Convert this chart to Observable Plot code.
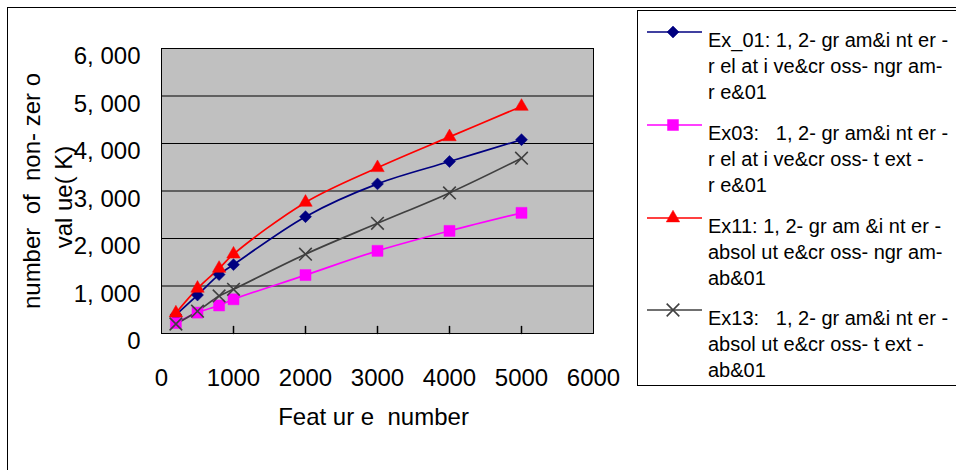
<!DOCTYPE html>
<html><head><meta charset="utf-8">
<script src="https://cdn.jsdelivr.net/npm/d3@7"></script>
<script src="https://cdn.jsdelivr.net/npm/@observablehq/plot@0.6"></script>
<style>
html,body{margin:0;padding:0;background:#fff;overflow:hidden;width:956px;height:470px;}
#wrap{position:relative;width:956px;height:470px;font-family:"Liberation Sans",Arial,sans-serif;overflow:hidden;}
#outer{position:absolute;left:7px;top:7px;width:1200px;height:1000px;border:1px solid #000;box-sizing:border-box;}
#chart{position:absolute;left:0;top:0;}
#legend{position:absolute;left:637px;top:10px;width:400px;height:376px;border:1px solid #000;box-sizing:border-box;background:#fff;}
.entry{position:absolute;left:0;width:380px;height:90px;}
.entry svg{position:absolute;left:0;top:0;overflow:visible;}
.entry .txt{position:absolute;left:70px;top:0;font-size:20px;line-height:26px;white-space:pre;color:#000;}
</style></head><body>
<div id="wrap"><div id="outer"></div><div id="chart"></div><div id="legend"></div></div>
<script>
// ---- data ----
const featureNumbers = [200, 500, 800, 1000, 2000, 3000, 4000, 5000];
const ex01 = [390, 810, 1240, 1450, 2460, 3150, 3620, 4080];
const ex03 = [220, 440, 590, 720, 1230, 1740, 2160, 2540];
const ex11 = [430, 950, 1370, 1670, 2760, 3490, 4140, 4780];
const ex13 = [200, 470, 790, 930, 1670, 2320, 2960, 3690];
const seriesNames = ["Ex_01", "Ex03", "Ex11", "Ex13"];
const seriesValues = [ex01, ex03, ex11, ex13];
const legendLabels = [
  "Ex_01: 1, 2- gr am&i nt er -\nr el at i ve&cr oss- ngr am-\nr e&01",
  "Ex03:   1, 2- gr am&i nt er -\nr el at i ve&cr oss- t ext -\nr e&01",
  "Ex11: 1, 2- gr am &i nt er -\nabsol ut e&cr oss- ngr am-\nab&01",
  "Ex13:   1, 2- gr am&i nt er -\nabsol ut e&cr oss- t ext -\nab&01"
];
const xTickValues = [0, 1000, 2000, 3000, 4000, 5000, 6000];
const yTickValues = [0, 1000, 2000, 3000, 4000, 5000, 6000];
const xAxisTitle = "Feat ur e  number";
const yAxisTitle1 = "number  of  non- zer o";
const yAxisTitle2 = "val ue( K)";

// ---- styles ----
const seriesColors = ["#000080", "#FF00FF", "#FF0000", "#404040"];
const seriesSymbols = ["diamond2", "square", "triangle", "times"];
const symbolR = {"diamond2": 5.4, "square": 6.2, "triangle": 5, "times": 5.8};

const rows = [];
seriesNames.forEach((name, i) => {
  featureNumbers.forEach((x, j) => rows.push({series: name, x, y: seriesValues[i][j]}));
});

const fmtY = d => d3.format(",")(d).replace(",", ", ");
const tickShape = {draw(context, l) { context.moveTo(0, 0); context.lineTo(0, -l); }};

const chart = Plot.plot({
  width: 636, height: 470,
  marginLeft: 161, marginRight: 43, marginTop: 48, marginBottom: 137,
  style: {fontFamily: "'Liberation Sans', Arial, sans-serif", background: "transparent", overflow: "visible", color: "#000"},
  x: {domain: [0, 6000]},
  y: {domain: [0, 6000]},
  color: {domain: seriesNames, range: seriesColors},
  symbol: {domain: seriesNames, range: seriesSymbols},
  marks: [
    Plot.frame({fill: "#C0C0C0"}),
    Plot.ruleY(yTickValues.filter(v => v > 0 && v < 6000), {stroke: "#000", strokeWidth: 1}),
    Plot.vector(xTickValues.filter(v => v > 0 && v < 6000), {x: d => d, frameAnchor: "bottom", length: 7, anchor: "start", rotate: 0, shape: tickShape, stroke: "#000"}),
    Plot.frame({stroke: "#000", strokeWidth: 1}),
    Plot.axisY({ticks: yTickValues, tickSize: 0, tickPadding: 21, tickFormat: fmtY, fontSize: 24, dy: 8, label: null}),
    Plot.axisX({ticks: xTickValues, tickSize: 0, tickPadding: 35, tickFormat: d => String(d), fontSize: 24, label: null}),
    Plot.line(rows, {x: "x", y: "y", z: "series", stroke: "series", curve: "catmull-rom", strokeWidth: 1.7}),
    ...seriesNames.map((name, i) => Plot.dot(rows.filter(r => r.series === name), {
      x: "x", y: "y", symbol: "series",
      fill: seriesSymbols[i] === "times" ? "none" : "series",
      stroke: "series", strokeWidth: seriesSymbols[i] === "times" ? 1.6 : 0.5,
      r: symbolR[seriesSymbols[i]]
    })),
    Plot.text([xAxisTitle], {text: d => d, frameAnchor: "bottom", dy: 91, dx: -4, fontSize: 24}),
    Plot.text([yAxisTitle1], {text: d => d, frameAnchor: "left", textAnchor: "middle", dx: -129, rotate: -90, fontSize: 24}),
    Plot.text([yAxisTitle2], {text: d => d, frameAnchor: "left", textAnchor: "middle", dx: -97, dy: 6, rotate: -90, fontSize: 24})
  ]
});
document.getElementById("chart").appendChild(chart);

// ---- legend ----
const legend = document.getElementById("legend");
const entryTops = [16, 109, 202, 294];
const symMap = {diamond2: d3.symbolDiamond2, square: d3.symbolSquare, triangle: d3.symbolTriangle, times: d3.symbolTimes};
seriesNames.forEach((name, i) => {
  const e = document.createElement("div");
  e.className = "entry";
  e.style.top = entryTops[i] + "px";
  const sym = seriesSymbols[i];
  const r = symbolR[sym];
  const path = d3.symbol(symMap[sym], Math.PI * r * r)();
  const isTimes = sym === "times";
  e.innerHTML = `<svg width="80" height="30"><line x1="9" x2="64" y1="5" y2="5" stroke="${seriesColors[i]}" stroke-width="1.7"/>` +
    `<path transform="translate(35,5)" d="${path}" fill="${isTimes ? "none" : seriesColors[i]}" stroke="${seriesColors[i]}" stroke-width="${isTimes ? 1.6 : 0.5}"/></svg>` +
    `<div class="txt"></div>`;
  e.querySelector(".txt").textContent = legendLabels[i];
  legend.appendChild(e);
});
</script>
</body></html>
